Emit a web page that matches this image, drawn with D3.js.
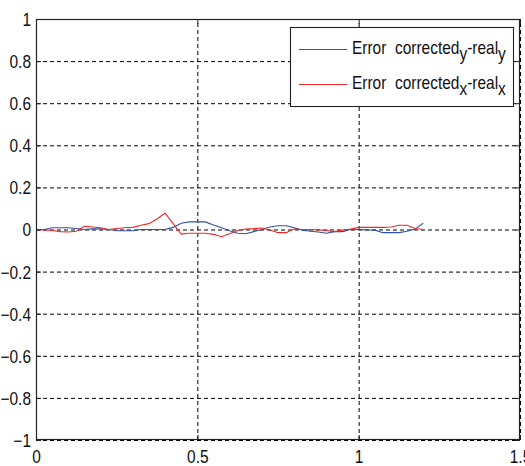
<!DOCTYPE html>
<html><head><meta charset="utf-8">
<script src="https://cdn.jsdelivr.net/npm/d3@7"></script>
<style>html,body{margin:0;padding:0;background:#fff;overflow:hidden}</style>
</head><body><svg id="c" width="525" height="466"></svg>
<script>
const xValues = [0,0.025,0.05,0.075,0.1,0.125,0.15,0.175,0.2,0.225,0.25,0.275,0.3,0.325,0.35,0.375,0.4,0.425,0.45,0.475,0.5,0.525,0.55,0.575,0.6,0.625,0.65,0.675,0.7,0.725,0.75,0.775,0.8,0.825,0.85,0.875,0.9,0.925,0.95,0.975,1,1.025,1.05,1.075,1.1,1.125,1.15,1.175,1.2];
const errY = [0,0,0.008,0.008,0.008,0.005,0,0.003,0.003,0,-0.006,-0.006,-0.006,0,0,0,0,0.01,0.03,0.036,0.036,0.036,0.021,0.008,-0.006,-0.018,-0.02,-0.01,0,0.012,0.018,0.018,0.008,-0.003,-0.008,-0.012,-0.018,-0.01,-0.01,0,0,-0.002,-0.003,-0.015,-0.015,-0.015,-0.008,0.002,0.03];
const errX = [0,-0.002,-0.005,-0.01,-0.012,-0.008,0.015,0.012,0.008,0,0.005,0.008,0.01,0.02,0.028,0.05,0.078,0.028,-0.022,-0.018,-0.018,-0.018,-0.023,-0.034,-0.02,-0.005,0.002,0.004,0.007,-0.002,-0.015,-0.015,0.002,0,0,-0.002,-0.005,-0.01,-0.003,0.002,0.01,0.01,0.01,0.01,0.012,0.02,0.02,0.005,0];
const xTicks = [0,0.5,1,1.5];
const yTicks = [-1,-0.8,-0.6,-0.4,-0.2,0,0.2,0.4,0.6,0.8,1];
const seriesLabels = [["Error\u00a0\u00a0corrected","y","-real","y"],["Error\u00a0\u00a0corrected","x","-real","x"]];
const seriesColors = ["#2f52a6","#f02828"];

const svg = d3.select("#c");
const L=36, R=520, T=19, B=440;
const W=R-L, H=B-T;
const x = d3.scaleLinear().domain([0,1.5]).range([L,R]);
const y = d3.scaleLinear().domain([-1,1]).range([B,T]);
const SX = 0.86, FS = 18, FONT = "Liberation Sans, Arial, sans-serif";

svg.append("rect").attr("x",0).attr("y",0).attr("width",525).attr("height",466).attr("fill","#fff");
svg.append("rect").attr("x",L).attr("y",T).attr("width",W).attr("height",H).attr("fill","#fff");

// grid
const gx = svg.append("g").attr("transform",`translate(0,${B})`)
  .call(d3.axisBottom(x).tickValues(xTicks).tickSize(-H).tickFormat(""));
const gy = svg.append("g").attr("transform",`translate(${L},0)`)
  .call(d3.axisLeft(y).tickValues(yTicks).tickSize(-W).tickFormat(""));
[gx,gy].forEach(g=>{g.select(".domain").remove();
  g.selectAll("line").attr("stroke","#000").attr("stroke-dasharray","4,3").attr("stroke-width",1);});

// data lines
const line = d3.line().x((d,i)=>x(xValues[i])).y(d=>y(d));
svg.append("path").datum(errY).attr("d",line).attr("fill","none").attr("stroke",seriesColors[0]).attr("stroke-width",1.1);
svg.append("path").datum(errX).attr("d",line).attr("fill","none").attr("stroke",seriesColors[1]).attr("stroke-width",1.1);

// box
svg.append("rect").attr("x",L+0.5).attr("y",T+0.5).attr("width",W-1).attr("height",H-1)
  .attr("fill","none").attr("stroke","#222").attr("stroke-width",1.2);

// ticks on all sides, inward
function styleAxis(g){g.select(".domain").remove();g.selectAll("line").attr("stroke","#222");}
const aB = svg.append("g").attr("transform",`translate(0,${B})`)
  .call(d3.axisBottom(x).tickValues(xTicks).tickSize(-5).tickPadding(9).tickFormat(d=>d3.format("")(d)));
const aT = svg.append("g").attr("transform",`translate(0,${T})`)
  .call(d3.axisTop(x).tickValues(xTicks).tickSize(-5).tickFormat(""));
const aL = svg.append("g").attr("transform",`translate(${L},0)`)
  .call(d3.axisLeft(y).tickValues(yTicks).tickSize(-5).tickPadding(5).tickFormat(d=>d3.format("")(+d.toFixed(1))));
const aR = svg.append("g").attr("transform",`translate(${R},0)`)
  .call(d3.axisRight(y).tickValues(yTicks).tickSize(-5).tickFormat(""));
[aB,aT,aL,aR].forEach(styleAxis);
aL.selectAll("text").attr("font-family",FONT).attr("font-size",FS).attr("fill","#111")
  .attr("x",-5/SX).attr("dy","0.36em").attr("transform",`scale(${SX},1)`);
aB.selectAll("text").attr("font-family",FONT).attr("font-size",FS).attr("fill","#111")
  .attr("y",23).attr("dy",0).attr("transform",`scale(${SX},1)`);

// legend
const lg = svg.append("g");
lg.append("rect").attr("x",290.5).attr("y",27.5).attr("width",223).attr("height",79)
  .attr("fill","#fff").attr("stroke","#222").attr("stroke-width",1.1);
const rowsY = [49.5, 84.5];
const baseY = [53.5, 88.5];
seriesLabels.forEach((parts,i)=>{
  lg.append("line").attr("x1",299).attr("x2",347).attr("y1",rowsY[i]).attr("y2",rowsY[i])
    .attr("stroke",seriesColors[i]).attr("stroke-width",1.1);
  const t = lg.append("g").attr("transform",`translate(352,${baseY[i]}) scale(${SX},1)`)
    .append("text").attr("font-family",FONT).attr("font-size",FS).attr("fill","#111");
  t.append("tspan").text(parts[0]);
  t.append("tspan").attr("dy",6).text(parts[1]);
  t.append("tspan").attr("dy",-6).text(parts[2]);
  t.append("tspan").attr("dy",6).text(parts[3]);
});
</script></body></html>
